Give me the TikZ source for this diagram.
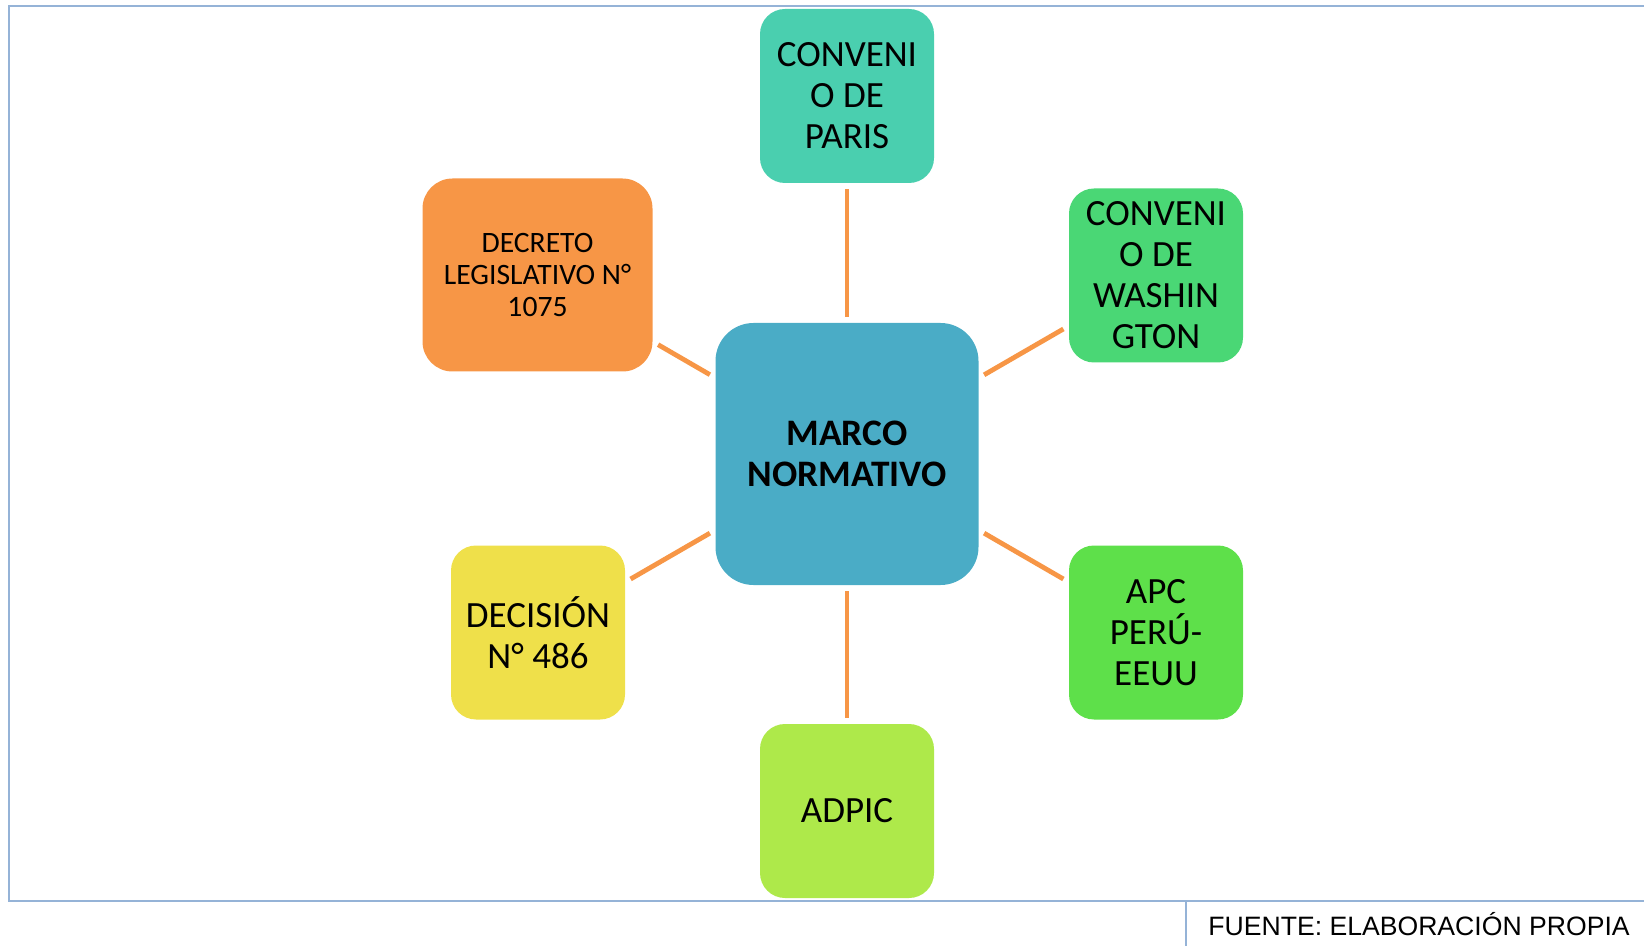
\documentclass[tikz,border=0pt]{standalone}
\usepackage{fontspec}
\setmainfont{Carlito}
\newfontfamily\fuentefont{Liberation Sans}
\usetikzlibrary{positioning}
\definecolor{marcoblue}{HTML}{4AACC6}
\definecolor{parisgreen}{HTML}{4ACFAF}
\definecolor{washgreen}{HTML}{4AD775}
\definecolor{apcgreen}{HTML}{5EE04A}
\definecolor{adpicgreen}{HTML}{AEE94A}
\definecolor{decyellow}{HTML}{EFE04A}
\definecolor{decorange}{HTML}{F79646}
\definecolor{frameblue}{HTML}{95B3D7}
\tikzstyle{box}=[rounded corners=12.5pt,minimum width=87pt,minimum height=87pt,inner sep=0pt,align=center,font=\fontsize{18.5}{20.5}\selectfont]
\tikzstyle{link}=[draw=decorange,line width=2.4pt,shorten >=3pt,shorten <=3pt]
\tikzstyle{frame}=[draw=frameblue,line width=1pt]

\begin{document}
\begin{tikzpicture}[x=0.5pt,y=-0.5pt]
\useasboundingbox (0,0) rectangle (1644,946);
\draw[frame] (1644,6) -- (9,6) -- (9,901) -- (1644,901);
\draw[frame] (1186,901) -- (1186,946);

\node [box,fill=marcoblue,rounded corners=19pt,minimum width=131.5pt,minimum height=131pt,font=\bfseries\fontsize{18.7}{20.2}\selectfont] (marco) at (847,454) {MARCO\\NORMATIVO};
\node [box,fill=parisgreen] (paris) at (847,96) {CONVENI\\O DE\\PARIS};
\node [box,fill=washgreen] (washington) at (1156,275.5) {CONVENI\\O DE\\WASHIN\\GTON};
\node [box,fill=apcgreen] (apc) at (1156,632.5) {APC\\PERÚ-\\EEUU};
\node [box,fill=adpicgreen] (adpic) at (847,811) {ADPIC};
\node [box,fill=decyellow] (decision) at (538,632.5) {DECISIÓN\\N° 486};
\node [box,fill=decorange,rounded corners=15pt,minimum width=115pt,minimum height=96.5pt,font=\fontsize{14.8}{16.2}\selectfont] (decreto) at (537.5,275) {DECRETO\\LEGISLATIVO N°\\1075};

\foreach \n in {paris,washington,apc,adpic,decision,decreto}
  \draw[link] (marco) -- (\n);

\node [anchor=base west,inner sep=0pt,font=\fuentefont\fontsize{13.3}{15}\selectfont] (fuente) at (1208,935) {FUENTE: ELABORACIÓN PROPIA};
\end{tikzpicture}
\end{document}
